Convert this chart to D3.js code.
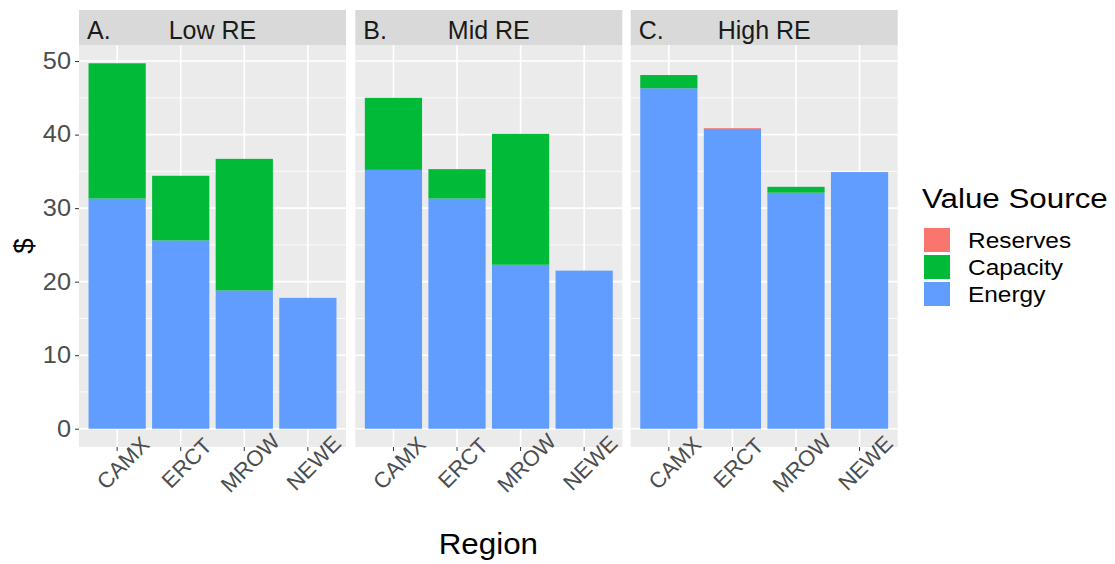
<!DOCTYPE html>
<html>
<head>
<meta charset="utf-8">
<script src="https://cdn.jsdelivr.net/npm/d3@7"></script>
<style>
  html, body { margin: 0; padding: 0; background: #ffffff; }
  svg { display: block; }
  text { font-family: Arial, "Liberation Sans", sans-serif; }
</style>
</head>
<body>
<svg id="chart" width="1115" height="564"></svg>
<script>
// Facets (renewable-energy scenario) and their tags
const panels = ["Low RE", "Mid RE", "High RE"];
const panelTags = ["A.", "B.", "C."];
const regions = ["CAMX", "ERCT", "MROW", "NEWE"];

// Value stack components, listed in legend order
const sources = ["Reserves", "Capacity", "Energy"];
const sourceColors = ["#F8766D", "#00BA38", "#619CFF"];

// Values per panel, one entry per region
const energyLow = [31.3, 25.6, 18.8, 17.8];
const capacityLow = [18.4, 8.8, 17.9, 0];
const reservesLow = [0, 0, 0, 0];

const energyMid = [35.2, 31.3, 22.3, 21.5];
const capacityMid = [9.8, 4.0, 17.8, 0];
const reservesMid = [0, 0, 0, 0];

const energyHigh = [46.3, 40.8, 32.1, 34.9];
const capacityHigh = [1.8, 0, 0.8, 0];
const reservesHigh = [0, 0.1, 0, 0];

const yTicks = [0, 10, 20, 30, 40, 50];
const xTitle = "Region";
const yTitle = "$";
const legendTitle = "Value Source";

const seriesByPanel = [
  { Energy: energyLow, Capacity: capacityLow, Reserves: reservesLow },
  { Energy: energyMid, Capacity: capacityMid, Reserves: reservesMid },
  { Energy: energyHigh, Capacity: capacityHigh, Reserves: reservesHigh }
];

// Layout
const panelLeft = [79, 355.3, 630.7];
const panelWidth = 267;
const stripTop = 10, stripBottom = 45;
const plotTop = 45, plotBottom = 447;

const svg = d3.select("#chart");
const color = d3.scaleOrdinal().domain(sources).range(sourceColors);

// widen glyphs slightly without changing their height
function widen(sel, k) {
  sel.each(function () {
    const w = this.getComputedTextLength();
    d3.select(this).attr("textLength", w * k).attr("lengthAdjust", "spacingAndGlyphs");
  });
}

// Stacked rows per panel (Energy bottom, then Capacity, then Reserves)
const stackOrder = ["Energy", "Capacity", "Reserves"];
const stacked = seriesByPanel.map(s => {
  const rows = regions.map((r, i) => {
    const o = { region: r };
    stackOrder.forEach(k => { o[k] = s[k][i]; });
    return o;
  });
  return d3.stack().keys(stackOrder)(rows);
});

const maxTotal = d3.max(stacked, st => d3.max(st[st.length - 1], d => d[1]));
const pad = maxTotal * 0.05;
const y = d3.scaleLinear().domain([-pad, maxTotal + pad]).range([plotBottom, plotTop]);
const minorTicks = [5, 15, 25, 35, 45];

panels.forEach((name, p) => {
  const x0 = panelLeft[p];
  const x = d3.scaleBand().domain(regions)
    .range([x0, x0 + panelWidth])
    .paddingInner(0.1).paddingOuter(0.15);

  const g = svg.append("g");

  // strip
  g.append("rect").attr("x", x0).attr("y", stripTop)
    .attr("width", panelWidth).attr("height", stripBottom - stripTop)
    .attr("fill", "#D9D9D9");
  g.append("text").attr("x", x0 + 8).attr("y", 39)
    .attr("font-size", 25).attr("fill", "#1A1A1A").text(panelTags[p]);
  g.append("text").attr("x", x0 + panelWidth / 2).attr("y", 39)
    .attr("text-anchor", "middle")
    .attr("font-size", 25).attr("fill", "#1A1A1A").text(name);

  // panel background
  g.append("rect").attr("x", x0).attr("y", plotTop)
    .attr("width", panelWidth).attr("height", plotBottom - plotTop)
    .attr("fill", "#EBEBEB");

  // grid lines
  g.selectAll(".minor").data(minorTicks).join("line")
    .attr("x1", x0).attr("x2", x0 + panelWidth)
    .attr("y1", d => y(d)).attr("y2", d => y(d))
    .attr("stroke", "#ffffff").attr("stroke-width", 0.8);
  g.selectAll(".major").data(yTicks).join("line")
    .attr("x1", x0).attr("x2", x0 + panelWidth)
    .attr("y1", d => y(d)).attr("y2", d => y(d))
    .attr("stroke", "#ffffff").attr("stroke-width", 1.6);
  g.selectAll(".vmajor").data(regions).join("line")
    .attr("x1", d => x(d) + x.bandwidth() / 2).attr("x2", d => x(d) + x.bandwidth() / 2)
    .attr("y1", plotTop).attr("y2", plotBottom)
    .attr("stroke", "#ffffff").attr("stroke-width", 1.6);

  // stacked bars
  stacked[p].forEach(layer => {
    g.append("g").attr("fill", color(layer.key))
      .selectAll("rect").data(layer).join("rect")
      .attr("x", d => x(d.data.region))
      .attr("width", x.bandwidth())
      .attr("y", d => y(d[1]))
      .attr("height", d => Math.max(0, y(d[0]) - y(d[1])));
  });

  // x axis ticks and rotated labels
  const xAxis = g.append("g").attr("transform", `translate(0,${plotBottom})`)
    .call(d3.axisBottom(x).tickSize(4).tickPadding(0).tickFormat(""));
  xAxis.select(".domain").remove();
  xAxis.selectAll("line").attr("stroke", "#333333").attr("stroke-width", 1);

  g.selectAll(".xlab").data(regions).join("text")
    .attr("transform", d => `translate(${x(d) + x.bandwidth() / 2 + 6},463) rotate(-45)`)
    .attr("text-anchor", "middle").attr("dominant-baseline", "central")
    .attr("font-size", 22).attr("fill", "#4D4D4D").text(d => d);
});

// y axis on first panel
const yAxis = svg.append("g").attr("transform", `translate(${panelLeft[0]},0)`)
  .call(d3.axisLeft(y).tickValues(yTicks).tickSize(4).tickPadding(4));
yAxis.select(".domain").remove();
yAxis.selectAll("line").attr("stroke", "#333333");
yAxis.selectAll("text").attr("font-size", 23).attr("fill", "#4D4D4D")
  .attr("font-family", "Arial, 'Liberation Sans', sans-serif");
widen(yAxis.selectAll("text"), 1.1);

// axis titles
svg.append("text")
  .attr("transform", `translate(33,${(plotTop + plotBottom) / 2}) rotate(-90)`)
  .attr("text-anchor", "middle").attr("font-size", 28).attr("fill", "#000")
  .text(yTitle);
const xt = svg.append("text")
  .attr("x", (panelLeft[0] + panelLeft[2] + panelWidth) / 2).attr("y", 554)
  .attr("text-anchor", "middle").attr("font-size", 29).attr("fill", "#000")
  .text(xTitle);
widen(xt, 1.08);

// legend
const legend = svg.append("g");
const lt = legend.append("text").attr("x", 922).attr("y", 208)
  .attr("font-size", 27).attr("fill", "#000").text(legendTitle);
widen(lt, 1.16);
const items = legend.selectAll(".item").data(sources).join("g")
  .attr("transform", (d, i) => `translate(924,${228 + i * 27})`);
items.append("rect").attr("width", 26).attr("height", 24)
  .attr("fill", d => color(d));
const labels = items.append("text").attr("x", 44).attr("y", 12)
  .attr("dominant-baseline", "central")
  .attr("font-size", 22).attr("fill", "#000").text(d => d);
widen(labels, 1.11);
</script>
</body>
</html>
